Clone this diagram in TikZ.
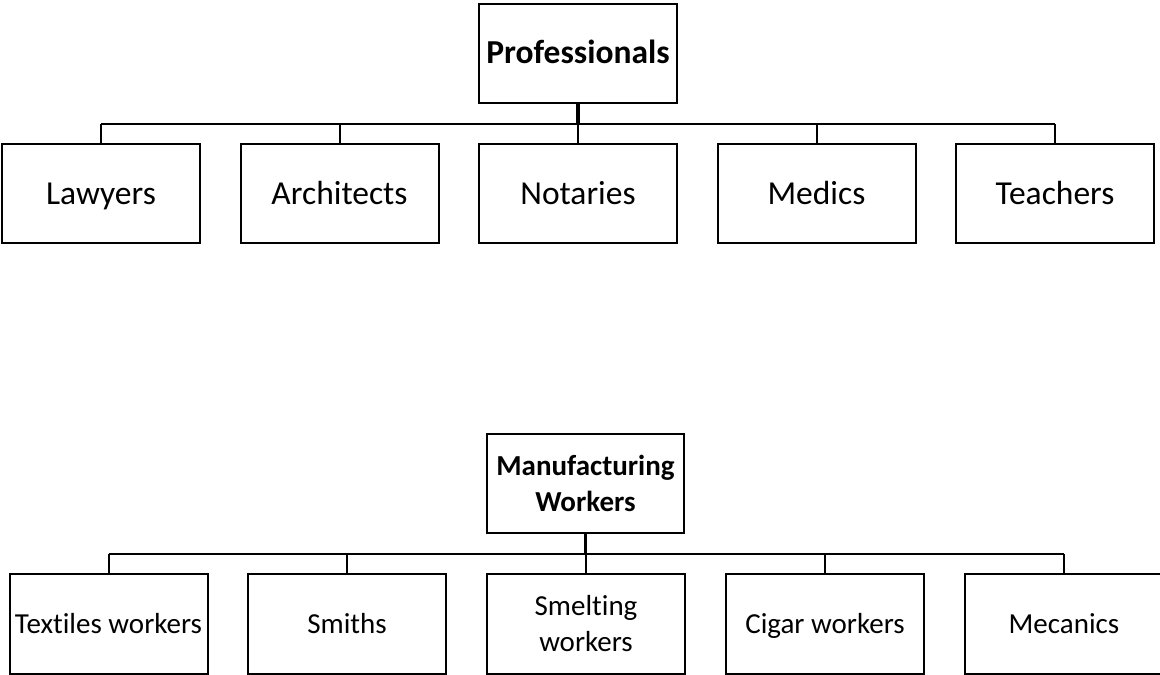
\documentclass[tikz,border=0pt]{standalone}
\usepackage{fontspec}
\setmainfont{Carlito}[Ligatures=NoCommon]
\begin{document}
\begin{tikzpicture}[x=1pt,y=-1pt,
  box/.style={draw=black,line width=2pt,minimum width=198pt,minimum height=99pt,inner sep=0pt,align=center,fill=white},
  bigline/.style={text height=26pt,text depth=4.6pt},
  smallline/.style={text height=22.6pt,text depth=4pt},
  bigtext/.style={font=\fontsize{33.5}{40}\selectfont},
  smalltext/.style={font=\fontsize{29}{36}\selectfont},
  link/.style={line width=2pt},
  stem/.style={line width=3.5pt}]
\useasboundingbox (0,0) rectangle (1160,675);
\clip (0,0) rectangle (1160,675);
% top chart
\node[box,bigtext,bigline] (P) at (578,53) {\textbf{Professionals}};
\node[box,bigtext,bigline] (a1) at (101,193.5) {Lawyers};
\node[box,bigtext,bigline] (a2) at (339.5,193.5) {Architects};
\node[box,bigtext,bigline] (a3) at (578,193.5) {Notaries};
\node[box,bigtext,bigline] (a4) at (816.5,193.5) {Medics};
\node[box,bigtext,bigline] (a5) at (1055,193.5) {Teachers};
\coordinate (pbus) at (578,124);
\draw[link] (a1.north |- pbus) -- (a5.north |- pbus);
\foreach \c in {a1,a2,a3,a4,a5} \draw[link] (\c.north) -- (\c.north |- pbus);
\draw[stem] (P.south) -- (pbus);
% bottom chart
\node[box,smalltext,minimum width=197pt] (M) at (585.5,483.5) {\textbf{Manufacturing}\\\textbf{Workers}};
\node[box,smalltext,smallline,minimum height=100pt] (b1) at (108.5,624) {Textiles workers};
\node[box,smalltext,smallline,minimum height=100pt] (b2) at (347,624) {Smiths};
\node[box,smalltext,minimum height=100pt] (b3) at (586,624) {Smelting\\workers};
\node[box,smalltext,smallline,minimum height=100pt] (b4) at (825,624) {Cigar workers};
\node[box,smalltext,smallline,minimum height=100pt] (b5) at (1064,624) {Mecanics};
\coordinate (mbus) at (585.5,554);
\draw[link] (b1.north |- mbus) -- (b5.north |- mbus);
\foreach \c in {b1,b2,b3,b4,b5} \draw[link] (\c.north) -- (\c.north |- mbus);
\draw[stem] (M.south) -- (mbus);
\end{tikzpicture}
\end{document}
